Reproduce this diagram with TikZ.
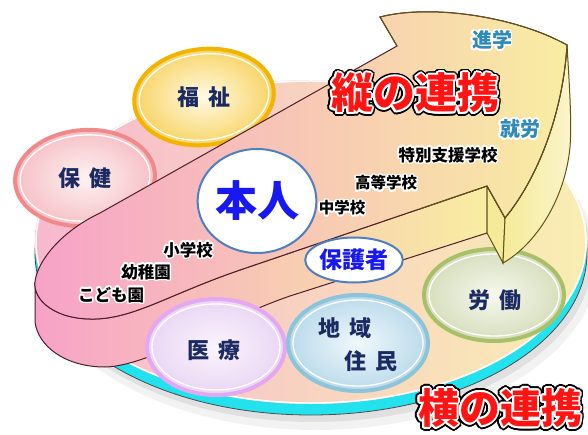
\documentclass[tikz,border=0pt]{standalone}
\usepackage{fontspec}
\newfontfamily\cjk{Noto Sans CJK JP}
\usetikzlibrary{shapes.geometric}
\definecolor{navy}{HTML}{1B2A63}
\definecolor{diskL}{HTML}{F8B8CF}
\definecolor{diskM}{HTML}{FBD3BB}
\definecolor{diskR}{HTML}{F9EEB2}
\definecolor{rim}{HTML}{22E2EE}
\definecolor{arrL}{HTML}{F7A2C8}
\definecolor{arrM}{HTML}{F9CCAE}
\definecolor{arrR}{HTML}{F8EDA2}
\definecolor{sideR}{HTML}{F5EA98}
\definecolor{lineL}{HTML}{4E1F2A}
\definecolor{lineR}{HTML}{5E5418}
\definecolor{teal}{HTML}{2E8BB8}
\definecolor{vred}{HTML}{FF1414}
\definecolor{kblue}{HTML}{1818F0}
\definecolor{kring}{HTML}{4F7FC0}
\newcommand\halotext[7]{%
  \foreach \ang in {0,22.5,...,337.5}{%
    \node[inner sep=0pt, text=#5, font=\cjk\bfseries\fontsize{#3}{#3}\selectfont] at ([shift={(\ang:#6)}]#2) {#7};}%
  \node[inner sep=0pt, text=#4, font=\cjk\bfseries\fontsize{#3}{#3}\selectfont] (#1) at (#2) {#7};}
\newcommand\bigtext[4]{%
  \foreach \ang in {0,15,...,345}{%
    \node[inner sep=0pt, text=black, font=\cjk\bfseries\fontsize{#3}{#3}\selectfont] at ([shift={(\ang:3.8)}]#2) {#4};}%
  \foreach \ang in {0,22.5,...,337.5}{%
    \node[inner sep=0pt, text=white, font=\cjk\bfseries\fontsize{#3}{#3}\selectfont] at ([shift={(\ang:2)}]#2) {#4};}%
  \node[inner sep=0pt, text=vred, font=\cjk\bfseries\fontsize{#3}{#3}\selectfont] (#1) at (#2) {#4};}
\tikzset{
  oval/.style 2 args={ellipse, inner sep=0pt, minimum width=#1pt, minimum height=#2pt, line width=4pt,
     text=navy, font=\cjk\bfseries\fontsize{22}{24}\selectfont},
  ring/.style={white, line width=1.3pt},
  ovaltext/.style={text=navy, font=\cjk\bfseries\fontsize{22}{24}\selectfont},
  person/.style={ellipse, draw=kring, line width=2pt, fill=white, inner sep=0pt, text=kblue},
}
\begin{document}
\begin{tikzpicture}[x=1pt,y=-1pt]
\useasboundingbox (0,0) rectangle (588,435);
\fill[white] (0,0) rectangle (588,435);
% shadow
\fill[black, opacity=0.05] (316,262) ellipse [x radius=282pt, y radius=168pt];
\fill[black, opacity=0.07] (314,258) ellipse [x radius=278pt, y radius=164pt];
% disk rim and top
\fill[rim] (311,253) ellipse [x radius=276pt, y radius=162pt];
\draw[black!70, line width=0.8pt] (311,253) ellipse [x radius=276pt, y radius=162pt];
\shade[left color=diskL, middle color=diskM, right color=diskR] (311,242) ellipse [x radius=276pt, y radius=162pt];
\draw[white, line width=1.5pt] (311,242) ellipse [x radius=275pt, y radius=161pt];
% ovals behind the arrow
\node[oval={140}{92}, draw={rgb,255:red,168;green,192;blue,104}, inner color={rgb,255:red,246;green,248;blue,238}, outer color={rgb,255:red,214;green,222;blue,188}] (roudou) at (494,295) {};
\draw[ring] (roudou.center) ellipse [x radius=65pt, y radius=41pt];
\node[ovaltext] (roudouT) at (495,300) {労\hspace{0.4em}働};
\node[oval={140}{96}, draw={rgb,255:red,242;green,180;blue,0}, inner color={rgb,255:red,255;green,250;blue,228}, outer color={rgb,255:red,248;green,210;blue,96}, rotate=6] (fukushi) at (204,97) {};
\draw[ring, rotate around={6:(204,97)}] (fukushi.center) ellipse [x radius=65pt, y radius=43pt];
\node[ovaltext] (fukushiT) at (204,97) {福\hspace{0.45em}祉};
\node[oval={140}{96}, draw={rgb,255:red,240;green,138;blue,138}, inner color={rgb,255:red,253;green,242;blue,242}, outer color={rgb,255:red,246;green,190;blue,196}, rotate=4] (hoken) at (85,178) {};
\draw[ring, rotate around={4:(85,178)}] (hoken.center) ellipse [x radius=65pt, y radius=43pt];
\node[ovaltext] (hokenT) at (85,178) {保\hspace{0.45em}健};
% arrow: side of the body
\path[left color=arrL, middle color=arrM, right color=arrR, draw=lineL, line width=1pt]
  (35,282) -- (35,322) .. controls (38,346) and (65,367) .. (105,367)
  .. controls (150,366) and (220,320) .. (290,296) -- (487,233) -- (487,186)
  -- (240,270) .. controls (170,294) and (135,318) .. (95,319)
  .. controls (55,320) and (33,300) .. (35,282) -- cycle;
% barb side
\path[fill=sideR, draw=lineR, line width=1pt] (487,186) -- (505,218) -- (503,263) -- (487,233) -- cycle;
% right side of the head
\path[left color=sideR, right color=white!50!sideR, draw=lineR, line width=1pt]
  (567,45) .. controls (569,80) and (572,120) .. (570,147)
  .. controls (565,200) and (535,245) .. (503,263) -- (505,218)
  .. controls (540,175) and (563,110) .. (567,45) -- cycle;
% top face
\path[left color=arrL, middle color=arrM, right color=arrR, draw=lineL, line width=1pt]
  (397,46) -- (380,17) .. controls (430,4) and (515,16) .. (567,45)
  .. controls (563,110) and (540,175) .. (505,218) -- (487,186)
  -- (240,270) .. controls (170,294) and (135,318) .. (95,319)
  .. controls (55,320) and (33,300) .. (35,282)
  .. controls (37,262) and (60,232) .. (100,213) -- cycle;
\draw[lineR, line width=1pt] (397,46) -- (380,17) .. controls (430,4) and (515,16) .. (567,45)
  .. controls (563,110) and (540,175) .. (505,218) -- (487,186) -- (420,209);
% people on the arrow
\node[person, minimum width=110pt, minimum height=104pt, font=\cjk\bfseries\fontsize{42}{44}\selectfont] (honnin) at (257,201) {本人};
\node[person, minimum width=80pt, minimum height=45pt, font=\cjk\bfseries\fontsize{23}{25}\selectfont] (hogosha) at (354,260) {保護者};
% ovals in front
\node[oval={138}{96}, draw={rgb,255:red,228;green,168;blue,240}, inner color={rgb,255:red,250;green,244;blue,252}, outer color={rgb,255:red,234;green,214;blue,244}] (iryou) at (216,347) {};
\draw[ring] (iryou.center) ellipse [x radius=64pt, y radius=43pt];
\node[ovaltext] (iryouT) at (214,350) {医\hspace{0.45em}療};
\node[oval={140}{96}, draw={rgb,255:red,140;green,196;blue,218}, inner color={rgb,255:red,240;green,248;blue,252}, outer color={rgb,255:red,186;green,218;blue,234}] (chiiki) at (358,343) {};
\draw[ring] (chiiki.center) ellipse [x radius=65pt, y radius=43pt];
\node[ovaltext] (chiikiT1) at (345,328) {地\hspace{0.45em}域};
\node[ovaltext] (chiikiT2) at (371,361) {住\hspace{0.45em}民};
% labels
\halotext{shin}{492,40}{20}{teal}{white}{1.6}{進学}
\halotext{shuu}{520,129}{20}{teal}{white}{1.6}{就労}
\halotext{tokubetsu}{448,155}{16.5}{black}{white}{1.5}{特別支援学校}
\halotext{koutou}{386,183}{15.5}{black}{white}{1.5}{高等学校}
\halotext{chuu}{342,208}{15.5}{black}{white}{1.5}{中学校}
\halotext{shou}{188,250}{16.5}{black}{white}{1.5}{小学校}
\halotext{youchi}{146,272}{16.5}{black}{white}{1.5}{幼稚園}
\halotext{kodomo}{111,295}{16.5}{black}{white}{1.5}{こども園}
\bigtext{tate}{415,93}{42}{縦の連携}
\bigtext{yoko}{500,408}{41}{横の連携}
\end{tikzpicture}
\end{document}
